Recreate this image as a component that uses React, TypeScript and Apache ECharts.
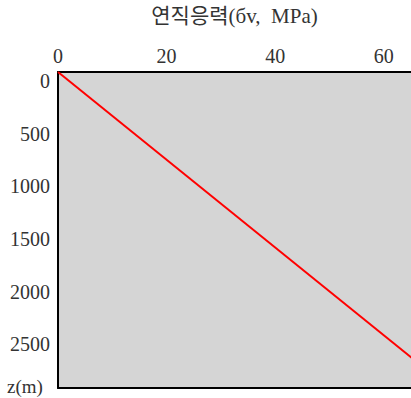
import React, { useEffect, useRef } from 'react';
import * as echarts from 'echarts';

// Data
const depthM = [0, 3000];
const verticalStressMPa = [0, 72];
const xTickLabels = [0, 20, 40, 60];
const yTickLabels = [0, 500, 1000, 1500, 2000, 2500];
const xAxisTitle = '연직응력(бv,  MPa)';
const yAxisTitle = 'z(m)';

export default function App() {
  const ref = useRef<HTMLDivElement>(null);
  useEffect(() => {
    if (!ref.current) return;
    const chart = echarts.init(ref.current, null, { renderer: 'svg' });
    const font = "'Liberation Serif', 'Noto Sans CJK KR', serif";
    const textColor = '#333';
    chart.setOption({
      animation: false,
      grid: {
        left: 58,
        top: 67,
        right: 0,
        bottom: 10,
        show: true,
        backgroundColor: '#d5d5d5',
        borderWidth: 0,
      },
      xAxis: [
        {
          type: 'value',
          position: 'top',
          min: 0,
          max: 65,
          interval: 20,
          name: xAxisTitle,
          nameLocation: 'middle',
          nameGap: 46,
          nameTextStyle: { fontFamily: font, fontSize: 21, color: textColor },
          axisLine: { show: true, lineStyle: { color: '#000', width: 2 } },
          axisTick: { show: false },
          splitLine: { show: false },
          axisLabel: {
            margin: 6,
            color: textColor,
            fontFamily: font,
            fontSize: 20,
            showMaxLabel: false,
            formatter: (v: number) => (xTickLabels.includes(v) ? String(v) : ''),
          },
        },
        {
          type: 'value',
          position: 'bottom',
          min: 0,
          max: 65,
          axisLine: { show: true, onZero: false, lineStyle: { color: '#000', width: 2 } },
          axisTick: { show: false },
          splitLine: { show: false },
          axisLabel: { show: false },
        },
      ],
      yAxis: {
        type: 'value',
        inverse: true,
        min: 0,
        max: 3000,
        interval: 500,
        axisLine: { show: true, lineStyle: { color: '#000', width: 2 } },
        axisTick: { show: false },
        splitLine: { show: false },
        axisLabel: {
          margin: 8,
          color: textColor,
          fontFamily: font,
          fontSize: 20,
          verticalAlign: 'top',
          padding: [-1, 0, 0, 0],
          formatter: (v: number) => (yTickLabels.includes(v) ? String(v) : ''),
        },
      },
      series: [
        {
          type: 'line',
          xAxisIndex: 0,
          data: depthM.map((z, i) => [verticalStressMPa[i], z]),
          symbol: 'none',
          clip: true,
          lineStyle: { color: '#ff0000', width: 2 },
        },
      ],
      graphic: [
        {
          type: 'text',
          left: 7,
          top: 377,
          style: { text: yAxisTitle, font: `19px ${font}`, fill: textColor },
        },
      ],
    });
    return () => chart.dispose();
  }, []);
  return (
    <div
      ref={ref}
      style={{ position: 'absolute', left: 0, top: 0, width: 411, height: 398 }}
    />
  );
}
